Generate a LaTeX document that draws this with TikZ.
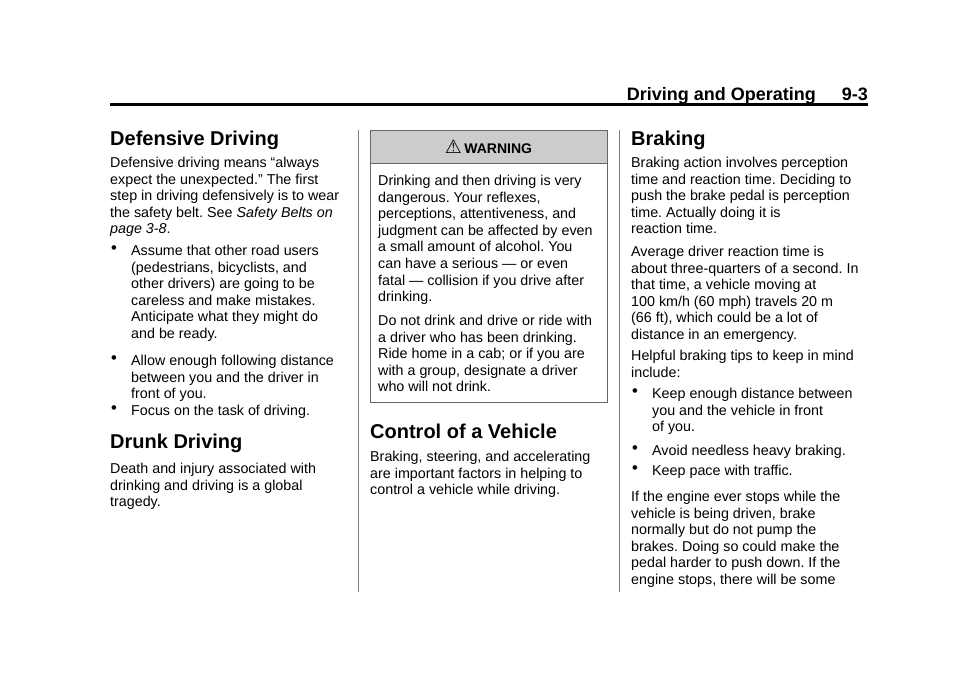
\documentclass[tikz,border=0pt]{standalone}
\usepackage{fontspec}
\setmainfont{Liberation Sans}
\newfontfamily\symf{DejaVu Sans}
\frenchspacing
\begin{document}
\begin{tikzpicture}[x=1pt,y=-1pt,
 body/.style={anchor=north west,inner sep=0pt,align=left,font=\fontsize{14.3}{16.6}\selectfont\frenchspacing},
 ttl/.style={anchor=west,inner sep=0pt,font=\fontsize{20}{24}\selectfont\bfseries},
 bul/.style={anchor=center,inner sep=0pt,font=\fontsize{6}{7}\selectfont}]
\useasboundingbox (0,0) rectangle (960,672);
\node[anchor=base east,inner sep=0pt,font=\fontsize{18}{20}\selectfont\bfseries] (hdr) at (868,100) {Driving and Operating\hspace{26pt}9-3};
\draw[line width=3pt] (110,104) -- (868,104);
\draw[line width=0.6pt,gray] (358,130) -- (358,592);
\draw[line width=0.6pt,gray] (619,130) -- (619,592);
% left column
\node[ttl] (t1) at (110,140) {Defensive Driving};
\node[body] (p1) at (110,157) {Defensive driving means “always\\expect the unexpected.” The first\\step in driving defensively is to wear\\the safety belt. See \textit{Safety Belts on}\\\textit{page 3-8}.};
\node[bul] (b1) at (114,248) {\symf●};
\node[body] (p2) at (131,245) {Assume that other road users\\(pedestrians, bicyclists, and\\other drivers) are going to be\\careless and make mistakes.\\Anticipate what they might do\\and be ready.};
\node[bul] (b2) at (114,358) {\symf●};
\node[body] (p3) at (131,355) {Allow enough following distance\\between you and the driver in\\front of you.};
\node[bul] (b3) at (114,408) {\symf●};
\node[body] (p4) at (131,405) {Focus on the task of driving.};
\node[ttl] (t2) at (110,443) {Drunk Driving};
\node[body] (p5) at (110,463) {Death and injury associated with\\drinking and driving is a global\\tragedy.};
% middle column
\draw[fill=black!20,draw=black!60,line width=0.8pt] (370,130) rectangle (607,163);
\draw[draw=black!60,line width=0.8pt] (370,163) rectangle (607,402);
\node[inner sep=0pt,font=\fontsize{14}{16}\selectfont\bfseries] (w) at (488.5,147) {{\symf\fontsize{19}{20}\selectfont ⚠}\,WARNING};
\node[body] (p6) at (378,175) {Drinking and then driving is very\\dangerous. Your reflexes,\\perceptions, attentiveness, and\\judgment can be affected by even\\a small amount of alcohol. You\\can have a serious — or even\\fatal — collision if you drive after\\drinking.};
\node[body] (p7) at (378,315) {Do not drink and drive or ride with\\a driver who has been drinking.\\Ride home in a cab; or if you are\\with a group, designate a driver\\who will not drink.};
\node[ttl] (t3) at (370,431) {Control of a Vehicle};
\node[body] (p8) at (370,451) {Braking, steering, and accelerating\\are important factors in helping to\\control a vehicle while driving.};
% right column
\node[ttl] (t4) at (631,140) {Braking};
\node[body] (p9) at (631,157) {Braking action involves perception\\time and reaction time. Deciding to\\push the brake pedal is perception\\time. Actually doing it is\\reaction time.};
\node[body] (p10) at (631,246) {Average driver reaction time is\\about three-quarters of a second. In\\that time, a vehicle moving at\\100 km/h (60 mph) travels 20 m\\(66 ft), which could be a lot of\\distance in an emergency.};
\node[body] (p11) at (631,350) {Helpful braking tips to keep in mind\\include:};
\node[bul] (b4) at (635,391) {\symf●};
\node[body] (p12) at (652,388) {Keep enough distance between\\you and the vehicle in front\\of you.};
\node[bul] (b5) at (635,448) {\symf●};
\node[body] (p13) at (652,445) {Avoid needless heavy braking.};
\node[bul] (b6) at (635,468) {\symf●};
\node[body] (p14) at (652,465) {Keep pace with traffic.};
\node[body] (p15) at (631,491) {If the engine ever stops while the\\vehicle is being driven, brake\\normally but do not pump the\\brakes. Doing so could make the\\pedal harder to push down. If the\\engine stops, there will be some};
\end{tikzpicture}
\end{document}
